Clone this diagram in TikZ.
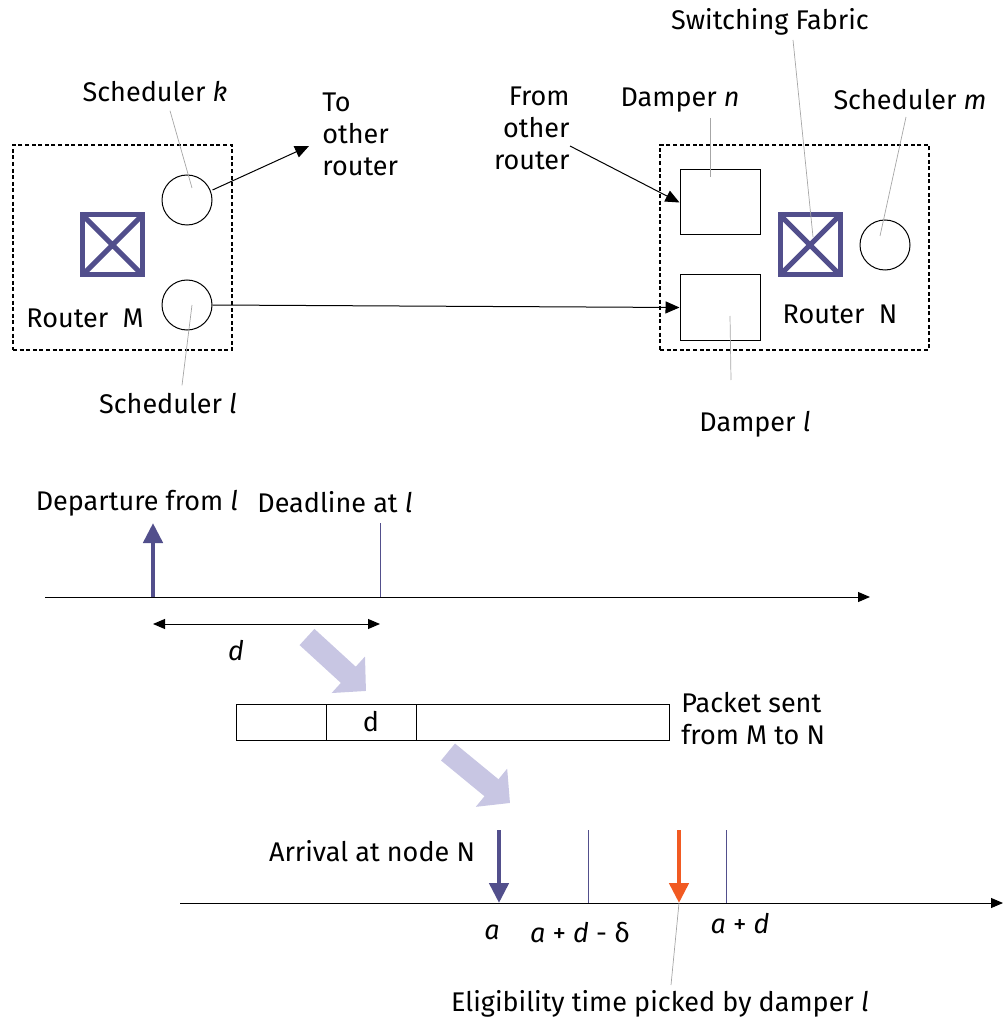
\documentclass[tikz,border=0pt]{standalone}
\usepackage{fontspec}
\setmainfont{Fira Sans}
\usetikzlibrary{arrows.meta,calc}
\definecolor{navy}{HTML}{524F8C}
\definecolor{lav}{HTML}{C8C6E3}
\definecolor{orng}{HTML}{F15A22}
\begin{document}
\begin{tikzpicture}[x=0.5pt,y=-0.5pt,
  lbl/.style={font=\fontsize{13.5}{16}\selectfont, inner sep=0pt},
  lead/.style={draw=gray!70, line width=0.35pt},
  routerbox/.style={draw, line width=0.7pt, dash pattern=on 2pt off 1.3pt},
  sched/.style={circle, draw, line width=0.5pt, minimum size=25pt, inner sep=0pt},
  damper/.style={rectangle, draw, line width=0.5pt, minimum width=40pt, minimum height=32.5pt, inner sep=0pt},
  fabric/.style={rectangle, draw=navy, line width=2.5pt, minimum size=30pt, inner sep=0pt,
    path picture={\draw[navy, line width=2.5pt]
      (path picture bounding box.north west) -- (path picture bounding box.south east)
      (path picture bounding box.north east) -- (path picture bounding box.south west);}},
  thin/.style={line width=0.5pt},
  tick/.style={draw=navy, line width=0.5pt},
  fat/.style={line width=2.3pt, -{Triangle[length=10pt,width=9.5pt]}},
  big/.style={draw=lav, line width=11pt, -{Triangle[length=12pt,width=24pt]}},
  tip/.style={-{Triangle[length=7pt,width=6pt]}}
]
\useasboundingbox (0,0) rectangle (1005,1021);

% Router M
\node[routerbox, minimum width=109.5pt, minimum height=102.5pt, inner sep=0pt] (RM) at (122.5,247.5) {};
\node[fabric] (FM) at (112.5,245) {};
\node[sched] (SK) at (187,200) {};
\node[sched] (SL) at (187,305) {};
\node[lbl] (RMt) at (85,318) {Router\ \ M};
\node[lbl] (SKt) at (155,92) {Scheduler \textit{k}};
\node[lbl] (SLt) at (168,404) {Scheduler \textit{l}};
\coordinate (SKa) at (192,188);
\coordinate (SLa) at (192,305);
\draw[lead] ($(SKt.south)+(15,8)$) -- (SKa);
\draw[lead] (SLa) -- ($(SLt.north)+(14,-8)$);

\node[lbl, align=left, anchor=north west] (TO) at (322,92) {To\\other\\router};
\coordinate (TOa) at (309,146);
\draw[thin, tip] ($(SK.east)+(0,-10)$) -- (TOa);

% Router N
\node[routerbox, minimum width=134.5pt, minimum height=102.5pt, inner sep=0pt] (RN) at (794.5,247.5) {};
\node[damper] (DN) at (720,202.5) {};
\node[damper] (DL) at (720,307.5) {};
\node[fabric] (FN) at (810,245) {};
\node[sched] (SM) at (885,245) {};
\node[lbl] (RNt) at (840,314) {Router\ \ N};
\node[lbl, align=right, anchor=north east] (FR) at (570,86) {From\\other\\router};
\node[lbl] (DNt) at (680,100) {Damper \textit{n}};
\node[lbl] (SFt) at (770,22) {Switching Fabric};
\node[lbl] (SMt) at (910,100) {Scheduler \textit{m}};
\node[lbl] (DLt) at (755,424) {Damper \textit{l}};
\draw[lead] (710,118) -- (710,177);
\draw[lead] (793,40) -- (813,237);
\draw[lead] (906,117) -- (880,236);
\draw[lead] (730,316) -- (731,380);

\draw[thin, tip] (570,146) -- (DN.west);
\draw[thin, tip] (SL.east) -- (DL.west);

% Timeline 1
\coordinate (T1s) at (45,597);
\coordinate (T1e) at (870,597);
\draw[thin, -{Triangle[length=6pt,width=5pt]}] (T1s) -- (T1e);
\coordinate (Dep) at (153,597);
\coordinate (DepT) at (153,523);
\draw[navy, fat] (Dep) -- (DepT);
\coordinate (Dl) at (380,597);
\coordinate (DlT) at (380,523);
\draw[tick] (Dl) -- (DlT);
\node[lbl] (DepL) at (137,503) {Departure from \textit{l}};
\node[lbl] (DlL) at (335,502) {Deadline at \textit{l}};
\coordinate (dA) at (153,624);
\coordinate (dB) at (380,624);
\draw[thin, {Triangle[length=6pt,width=5pt]}-{Triangle[length=6pt,width=5pt]}] (dA) -- (dB);
\node[lbl] (dL) at (236,651) {\textit{d}};

% big arrows
\coordinate (B1s) at (307,637);
\coordinate (B1e) at (366,691);
\draw[big] (B1s) -- (B1e);
\coordinate (B2s) at (448,752);
\coordinate (B2e) at (510,803);
\draw[big] (B2s) -- (B2e);

% Packet
\node[rectangle, draw, thin, minimum width=216.5pt, minimum height=18pt, inner sep=0pt] (PK) at (452.5,722) {};
\draw[thin] (326,704) -- (326,740) (416,704) -- (416,740);
\node[lbl] (PKd) at (371,722) {d};
\node[lbl, align=left, anchor=north west] (PKt) at (681,692) {Packet sent\\from M to N};

% Timeline 2
\coordinate (T2s) at (180,903);
\coordinate (T2e) at (1003,903);
\draw[thin, -{Triangle[length=6pt,width=5pt]}] (T2s) -- (T2e);
\coordinate (Ar) at (499,903);
\coordinate (ArT) at (499,830);
\draw[navy, fat] (ArT) -- (Ar);
\coordinate (Ld) at (588,903);
\coordinate (LdT) at (588,830);
\draw[tick] (Ld) -- (LdT);
\coordinate (El) at (679,903);
\coordinate (ElT) at (679,830);
\draw[orng, fat] (ElT) -- (El);
\coordinate (Ad) at (726,903);
\coordinate (AdT) at (726,830);
\draw[tick] (Ad) -- (AdT);
\node[lbl] (ArL) at (372,851) {Arrival at node N};
\node[lbl] (aL) at (492,932) {\textit{a}};
\node[lbl] (adL) at (580,933) {\textit{a} + \textit{d} - δ};
\node[lbl] (aaL) at (740,924) {\textit{a} + \textit{d}};
\node[lbl] (ElL) at (660,1004) {Eligibility time picked by damper \textit{l}};
\draw[lead] (El) -- (671,985);
\end{tikzpicture}
\end{document}
